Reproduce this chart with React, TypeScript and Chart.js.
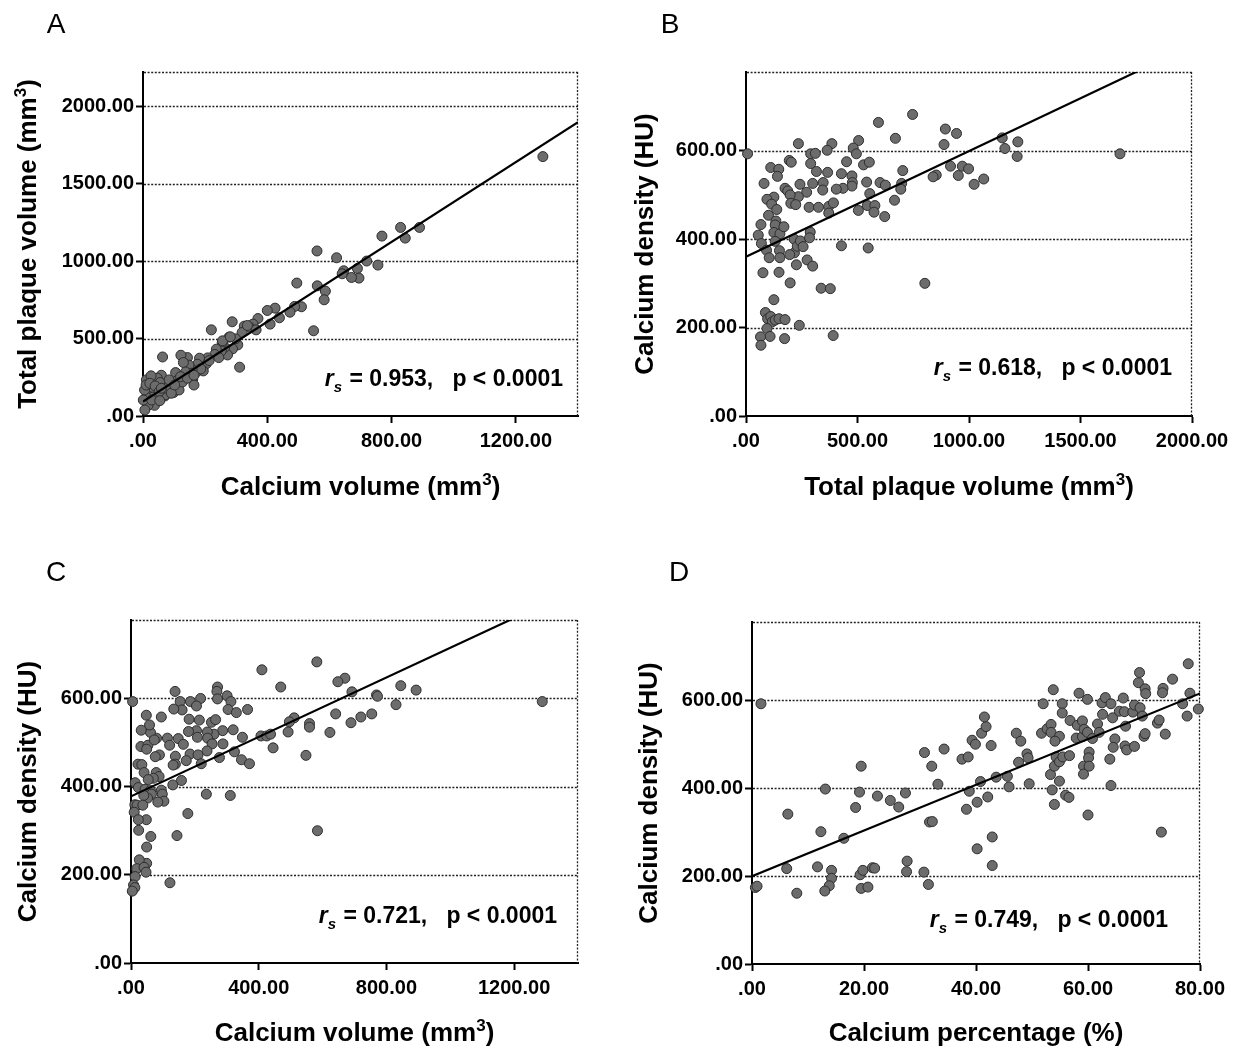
import React, { useEffect, useRef } from "react";
import { Chart, registerables } from "chart.js";

Chart.register(...registerables);

const FONT = '"Liberation Sans", Arial, Helvetica, sans-serif';

// ---------- Panel A: calcium volume vs total plaque volume ----------
const aCalciumVolume = [
  1287, 829, 890, 844, 769, 756, 720, 690, 695, 671,
  646, 623, 641, 560, 561, 587, 583, 495, 549, 510,
  488, 473, 439, 425, 409, 400, 370, 354, 343, 364,
  326, 319, 287, 311, 305, 298, 277, 288, 272, 263,
  255, 252, 236, 220, 231, 208, 203, 182, 175, 194,
  172, 186, 158, 143, 148, 154, 122, 130, 137, 105,
  110, 90, 82, 63, 59, 46, 55, 32, 18, 11,
  11, 26, 37, 70, 98, 116, 16, 6, 31, 48,
  71, 75, 127, 160, 164, 5, 10, 22, 39, 52,
  59, 84, 91, 102, 1, 28, 54, 121, 143, 164,
  213, 244, 256, 281, 336,
];
const aTotalPlaqueVolume = [
  1674, 1217, 1217, 1148, 1161, 974, 1000, 952, 890, 894,
  937, 1021, 918, 1065, 840, 806, 750, 858, 550, 705,
  707, 670, 634, 696, 593, 681, 629, 593, 573, 556,
  580, 539, 608, 315, 459, 498, 509, 433, 394, 444,
  474, 420, 431, 556, 397, 375, 336, 373, 334, 291,
  284, 304, 300, 377, 328, 276, 392, 345, 284, 280,
  228, 211, 179, 381, 263, 244, 216, 136, 179, 121,
  233, 259, 69, 129, 151, 168, 69, 39, 185, 121,
  136, 179, 220, 237, 200, 168, 200, 211, 194, 157,
  179, 233, 147, 200, 103, 103, 99, 254, 244, 263,
  358, 377, 485, 511, 584,
];
const aFit = { intercept: 93, slope: 1.288 };
const aXTicks = [0, 400, 800, 1200];
const aYTicks = [0, 500, 1000, 1500, 2000];

// ---------- Panel B: total plaque volume vs calcium density ----------
const bTotalPlaqueVolume = [
  7, 1677, 747, 594, 670, 235, 385, 505, 481, 495,
  364, 290, 311, 290, 527, 553, 451, 194, 203, 111,
  147, 141, 316, 366, 428, 475, 703, 894, 944, 888,
  1149, 1219, 1161, 1216, 917, 970, 998, 952, 853, 839,
  1066, 1023, 698, 694, 666, 601, 625, 541, 555, 477,
  475, 435, 405, 346, 344, 299, 242, 272, 235, 175,
  187, 198, 125, 81, 94, 115, 201, 223, 283, 325,
  371, 392, 371, 504, 544, 578, 574, 622, 548, 428,
  101, 138, 134, 67, 55, 69, 92, 104, 150, 152,
  131, 125, 152, 131, 170, 216, 217, 230, 244, 256,
  288, 285, 196, 226, 274, 299, 76, 148, 198, 337,
  378, 802, 125, 87, 97, 111, 118, 131, 148, 175,
  94, 108, 65, 67, 173, 239, 391,
];
const bCalciumDensity = [
  593, 593, 682, 664, 628, 616, 616, 623, 606, 593,
  601, 593, 594, 571, 568, 574, 575, 578, 574, 562,
  558, 542, 553, 551, 548, 543, 555, 649, 639, 614,
  629, 620, 605, 587, 565, 565, 559, 544, 545, 541,
  536, 524, 526, 513, 488, 528, 522, 529, 503, 528,
  520, 515, 513, 528, 511, 526, 524, 506, 496, 515,
  509, 500, 495, 526, 490, 479, 481, 478, 472, 472,
  474, 482, 459, 465, 476, 476, 461, 451, 380, 385,
  454, 467, 441, 433, 409, 390, 375, 358, 374, 358,
  432, 415, 412, 395, 428, 400, 369, 384, 396, 383,
  416, 403, 365, 342, 353, 339, 324, 325, 301, 289,
  288, 300, 263, 234, 220, 225, 213, 217, 220, 218,
  198, 180, 179, 160, 175, 205, 182,
];
const bFit = { intercept: 360, slope: 0.239 };
const bXTicks = [0, 500, 1000, 1500, 2000];
const bYTicks = [0, 200, 400, 600];

// ---------- Panel C: calcium volume vs calcium density ----------
const cCalciumVolume = [
  1288, 582, 410, 670, 648, 469, 845, 893, 692, 769,
  772, 830, 641, 754, 720, 689, 511, 496, 559, 559,
  492, 623, 407, 425, 437, 445, 548, 584, 271, 269,
  271, 301, 313, 304, 330, 365, 218, 186, 205, 154,
  160, 138, 134, 182, 214, 252, 265, 287, 320, 349,
  260, 239, 205, 180, 208, 240, 148, 114, 121, 164,
  288, 254, 238, 185, 210, 173, 139, 139, 132, 277,
  324, 346, 371, 220, 236, 311, 158, 131, 178, 144,
  122, 95, 80, 89, 61, 48, 58, 32, 31, 53,
  49, 22, 34, 41, 79, 88, 70, 54, 13, 23,
  44, 61, 64, 95, 98, 103, 84, 52, 40, 12,
  19, 37, 10, 48, 23, 24, 62, 49, 49, 26,
  18, 41, 47, 13, 8, 12, 4, 5, 73, 76,
];
const cCalciumDensity = [
  593, 683, 665, 646, 638, 626, 629, 619, 615, 608,
  605, 586, 565, 565, 558, 545, 556, 547, 543, 535,
  524, 523, 515, 515, 519, 488, 471, 300, 626, 616,
  599, 606, 593, 575, 568, 575, 600, 593, 583, 593,
  574, 616, 576, 553, 551, 546, 552, 527, 529, 512,
  519, 524, 527, 525, 512, 510, 509, 510, 494, 496,
  497, 497, 481, 474, 472, 459, 469, 451, 449, 466,
  479, 461, 452, 452, 383, 380, 414, 404, 339, 289,
  182, 558, 510, 472, 523, 562, 540, 528, 491, 494,
  485, 451, 450, 432, 432, 423, 419, 416, 409, 398,
  394, 391, 383, 392, 383, 367, 365, 374, 380, 359,
  358, 358, 342, 325, 325, 301, 287, 263, 226, 234,
  214, 217, 206, 196, 177, 171, 163, 593, 506, 468,
];
const cFit = { intercept: 378, slope: 0.337 };
const cXTicks = [0, 400, 800, 1200];
const cYTicks = [0, 200, 400, 600];

// ---------- Panel D: calcium percentage vs calcium density ----------
const dCalciumPercentage = [
  1.6, 0.6, 0.9, 6.4, 6.2, 8.0, 12.3, 11.7, 13.1, 14.2,
  14.2, 13.8, 13.0, 16.4, 18.5, 19.5, 19.2, 19.3, 19.8, 19.5,
  20.7, 21.5, 21.9, 22.4, 24.7, 26.2, 27.4, 27.7, 27.6, 30.7,
  31.5, 30.8, 32.1, 31.7, 32.2, 33.2, 34.3, 37.5, 38.6, 38.3,
  38.8, 40.2, 40.2, 39.3, 39.9, 41.0, 41.8, 41.5, 42.7, 40.8,
  42.1, 43.6, 42.9, 42.9, 45.6, 45.9, 47.2, 48.0, 47.6, 49.1,
  49.3, 49.5, 52.0, 51.7, 52.7, 53.4, 53.8, 53.4, 54.9, 54.1,
  53.3, 54.0, 54.3, 54.9, 54.9, 53.6, 54.0, 55.4, 55.4, 55.5,
  56.0, 56.6, 56.8, 56.7, 58.4, 58.1, 59.0, 57.9, 59.0, 59.3,
  59.9, 59.9, 59.2, 59.2, 60.2, 60.1, 60.2, 60.0, 60.8, 61.7,
  62.0, 62.5, 62.6, 63.1, 64.1, 64.4, 64.8, 64.5, 63.9, 64.1,
  65.6, 66.3, 66.5, 66.7, 66.6, 66.9, 68.3, 68.0, 68.3, 69.0,
  69.2, 69.3, 69.7, 70.0, 70.2, 70.2, 70.3, 72.4, 72.7, 73.4,
  73.3, 73.1, 73.8, 75.1, 76.9, 77.7, 77.9, 78.2, 79.7,
];
const dCalciumDensity = [
  592, 174, 177, 341, 217, 161, 301, 221, 398, 213,
  195, 178, 166, 286, 356, 450, 391, 203, 213, 172,
  175, 219, 218, 382, 372, 357, 389, 234, 210, 209,
  181, 481, 450, 323, 324, 409, 489, 466, 471, 352,
  393, 368, 262, 509, 500, 525, 540, 562, 497, 415,
  380, 425, 289, 224, 427, 403, 525, 507, 459, 478,
  469, 410, 592, 525, 535, 545, 624, 527, 518, 507,
  431, 450, 471, 460, 416, 396, 363, 592, 571, 471,
  384, 379, 554, 474, 616, 543, 553, 514, 517, 534,
  602, 527, 450, 432, 482, 469, 450, 339, 513, 546,
  527, 594, 568, 606, 592, 560, 512, 493, 466, 406,
  575, 605, 574, 541, 496, 487, 495, 573, 589, 640,
  663, 583, 564, 518, 524, 626, 615, 548, 555, 627,
  617, 300, 523, 648, 592, 564, 683, 616, 580,
];
const dFit = { intercept: 199.5, slope: 5.2 };
const dXTicks = [0, 20, 40, 60, 80];
const dYTicks = [0, 200, 400, 600];

type Spec = {
  letter: string;
  x: number; y: number; w: number; h: number;
  area: { l: number; t: number; r: number; b: number };
  xMax: number; yMax: number;
  xTicks: number[]; yTicks: number[];
  xs: number[]; ys: number[];
  fit: { intercept: number; slope: number };
  xTitle: string; yTitle: string;
  xTitleY: number; yTitleX: number;
  letterX: number; letterY: number;
  rs: string; annotRight: number; annotBottom: number;
};

const specs: Spec[] = [
  {
    letter: "A", x: 0, y: 0, w: 620, h: 524,
    area: { l: 143, t: 72, r: 578, b: 416 },
    xMax: 1400, yMax: 2220, xTicks: aXTicks, yTicks: aYTicks,
    xs: aCalciumVolume, ys: aTotalPlaqueVolume, fit: aFit,
    xTitle: "Calcium volume (mm³)", yTitle: "Total plaque volume (mm³)",
    xTitleY: 486, yTitleX: 27, letterX: 56, letterY: 25,
    rs: "0.953", annotRight: 15, annotBottom: 30,
  },
  {
    letter: "B", x: 620, y: 0, w: 619, h: 524,
    area: { l: 126, t: 72, r: 572, b: 416 },
    xMax: 2000, yMax: 778, xTicks: bXTicks, yTicks: bYTicks,
    xs: bTotalPlaqueVolume, ys: bCalciumDensity, fit: bFit,
    xTitle: "Total plaque volume (mm³)", yTitle: "Calcium density (HU)",
    xTitleY: 486, yTitleX: 24, letterX: 50, letterY: 25,
    rs: "0.618", annotRight: 20, annotBottom: 41,
  },
  {
    letter: "C", x: 0, y: 524, w: 620, h: 524,
    area: { l: 131, t: 96, r: 578, b: 439 },
    xMax: 1400, yMax: 778, xTicks: cXTicks, yTicks: cYTicks,
    xs: cCalciumVolume, ys: cCalciumDensity, fit: cFit,
    xTitle: "Calcium volume (mm³)", yTitle: "Calcium density (HU)",
    xTitleY: 508, yTitleX: 27, letterX: 56, letterY: 49,
    rs: "0.721", annotRight: 21, annotBottom: 40,
  },
  {
    letter: "D", x: 620, y: 524, w: 619, h: 524,
    area: { l: 132, t: 98, r: 580, b: 440 },
    xMax: 80, yMax: 778, xTicks: dXTicks, yTicks: dYTicks,
    xs: dCalciumPercentage, ys: dCalciumDensity, fit: dFit,
    xTitle: "Calcium percentage (%)", yTitle: "Calcium density (HU)",
    xTitleY: 508, yTitleX: 28, letterX: 59, letterY: 49,
    rs: "0.749", annotRight: 32, annotBottom: 37,
  },
];

const fmt = (v: number | string) => {
  const n = Number(v);
  return n === 0 ? ".00" : n.toFixed(2);
};

// Draw a title centred on (cx, cy), rendering "³" as a real superscript "3".
function drawTitle(ctx: CanvasRenderingContext2D, text: string, cx: number, cy: number, size: number) {
  const main = `bold ${size}px ${FONT}`;
  const supSize = Math.round(size * 0.64);
  const sup = `bold ${supSize}px ${FONT}`;
  const parts = text.split("³");
  ctx.font = main;
  const widths = parts.map((p) => ctx.measureText(p).width);
  ctx.font = sup;
  const supW = ctx.measureText("3").width;
  const total = widths.reduce((s, w) => s + w, 0) + supW * (parts.length - 1);
  let x = cx - total / 2;
  const base = cy + size * 0.36;
  ctx.textAlign = "left";
  ctx.textBaseline = "alphabetic";
  parts.forEach((p, i) => {
    ctx.font = main;
    ctx.fillText(p, x, base);
    x += widths[i];
    if (i < parts.length - 1) {
      ctx.font = sup;
      ctx.fillText("3", x, base - size * 0.38);
      x += supW;
    }
  });
}

function makeDecor(spec: Spec) {
  return {
    id: "decor" + spec.letter,
    beforeDatasetsDraw(chart: any) {
      const { ctx, chartArea: a, scales } = chart;
      const ys = scales.y;
      ctx.save();
      ctx.strokeStyle = "#222";
      ctx.lineWidth = 1.3;
      ctx.setLineDash([2, 1.6]);
      ctx.beginPath();
      for (const v of spec.yTicks) {
        if (v === 0) continue;
        const py = Math.round(ys.getPixelForValue(v)) + 0.5;
        ctx.moveTo(a.left + 1, py);
        ctx.lineTo(a.right, py);
      }
      const t = Math.round(a.top) + 0.5;
      ctx.moveTo(a.left + 1, t);
      ctx.lineTo(a.right, t);
      const r = Math.round(a.right) - 0.5;
      ctx.moveTo(r, a.top);
      ctx.lineTo(r, a.bottom);
      ctx.stroke();
      ctx.restore();
    },
    afterDraw(chart: any) {
      const { ctx, chartArea: a } = chart;
      ctx.save();
      ctx.fillStyle = "#000";
      // panel letter
      ctx.font = `28px ${FONT}`;
      ctx.textAlign = "center";
      ctx.textBaseline = "middle";
      ctx.fillText(spec.letter, spec.letterX, spec.letterY);
      // axis titles
      drawTitle(ctx, spec.xTitle, (a.left + a.right) / 2, spec.xTitleY, 26);
      ctx.save();
      ctx.translate(spec.yTitleX, (a.top + a.bottom) / 2);
      ctx.rotate(-Math.PI / 2);
      drawTitle(ctx, spec.yTitle, 0, 0, 26);
      ctx.restore();
      // correlation annotation
      const big = `bold 23px ${FONT}`;
      const ital = `italic bold 23px ${FONT}`;
      const sub = `italic bold 15px ${FONT}`;
      const rest = ` = ${spec.rs},   p < 0.0001`;
      ctx.textAlign = "left";
      ctx.textBaseline = "alphabetic";
      ctx.font = ital;
      const wr = ctx.measureText("r").width;
      ctx.font = sub;
      const ws = ctx.measureText("s").width;
      ctx.font = big;
      const wt = ctx.measureText(rest).width;
      let x = a.right - spec.annotRight - (wr + ws + wt + 1);
      const yb = a.bottom - spec.annotBottom;
      ctx.font = ital;
      ctx.fillText("r", x, yb);
      x += wr;
      ctx.font = sub;
      ctx.fillText("s", x, yb + 6);
      x += ws + 1;
      ctx.font = big;
      ctx.fillText(rest, x, yb);
      ctx.restore();
    },
  };
}

function buildConfig(spec: Spec): any {
  const tickFont = { family: FONT, size: 20, weight: "bold" as const };
  const gridOpts = {
    display: true,
    drawOnChartArea: false,
    drawTicks: true,
    tickLength: 7,
    tickWidth: 2,
    tickColor: "#000",
    color: "#000",
  };
  const borderOpts = { display: true, color: "#000", width: 2 };
  const points = spec.xs.map((xv, i) => ({ x: xv, y: spec.ys[i] }));
  const line = [
    { x: 0, y: spec.fit.intercept },
    { x: spec.xMax, y: spec.fit.intercept + spec.fit.slope * spec.xMax },
  ];
  return {
    type: "scatter",
    data: {
      datasets: [
        {
          type: "line",
          data: line,
          borderColor: "#000",
          borderWidth: 2.2,
          pointRadius: 0,
          fill: false,
          tension: 0,
          clip: 0,
        },
        {
          type: "scatter",
          data: points,
          pointRadius: 5,
          pointBorderWidth: 1,
          backgroundColor: "rgb(108,108,108)",
          borderColor: "rgb(45,45,45)",
          pointBackgroundColor: "rgb(108,108,108)",
          pointBorderColor: "rgb(45,45,45)",
          clip: false,
        },
      ],
    },
    options: {
      animation: false,
      responsive: false,
      devicePixelRatio: 1,
      layout: {
        padding: { left: 0, top: spec.area.t, right: spec.w - spec.area.r, bottom: 0 },
      },
      plugins: {
        legend: { display: false },
        tooltip: { enabled: false },
        title: { display: false },
      },
      scales: {
        x: {
          type: "linear",
          position: "bottom",
          min: 0,
          max: spec.xMax,
          afterBuildTicks: (s: any) => {
            s.ticks = spec.xTicks.map((v) => ({ value: v }));
          },
          afterFit: (s: any) => {
            s.height = spec.h - spec.area.b;
          },
          ticks: {
            callback: fmt,
            font: tickFont,
            color: "#000",
            padding: 6,
            maxRotation: 0,
            autoSkip: false,
          },
          grid: gridOpts,
          border: borderOpts,
          title: { display: false },
        },
        y: {
          type: "linear",
          position: "left",
          min: 0,
          max: spec.yMax,
          afterBuildTicks: (s: any) => {
            s.ticks = spec.yTicks.map((v) => ({ value: v }));
          },
          afterFit: (s: any) => {
            s.width = spec.area.l;
          },
          ticks: {
            callback: fmt,
            font: tickFont,
            color: "#000",
            padding: 2,
            autoSkip: false,
          },
          grid: gridOpts,
          border: borderOpts,
          title: { display: false },
        },
      },
    },
    plugins: [makeDecor(spec)],
  };
}

function Panel({ spec }: { spec: Spec }) {
  const ref = useRef<HTMLCanvasElement>(null);
  useEffect(() => {
    if (!ref.current) return;
    const chart = new Chart(ref.current, buildConfig(spec));
    return () => chart.destroy();
  }, [spec]);
  return (
    <canvas
      ref={ref}
      width={spec.w}
      height={spec.h}
      style={{ position: "absolute", left: spec.x, top: spec.y, width: spec.w, height: spec.h }}
    />
  );
}

export default function App() {
  return (
    <div
      style={{
        position: "absolute",
        left: 0,
        top: 0,
        width: 1239,
        height: 1048,
        background: "#fff",
        overflow: "hidden",
      }}
    >
      {specs.map((s) => (
        <Panel key={s.letter} spec={s} />
      ))}
    </div>
  );
}
